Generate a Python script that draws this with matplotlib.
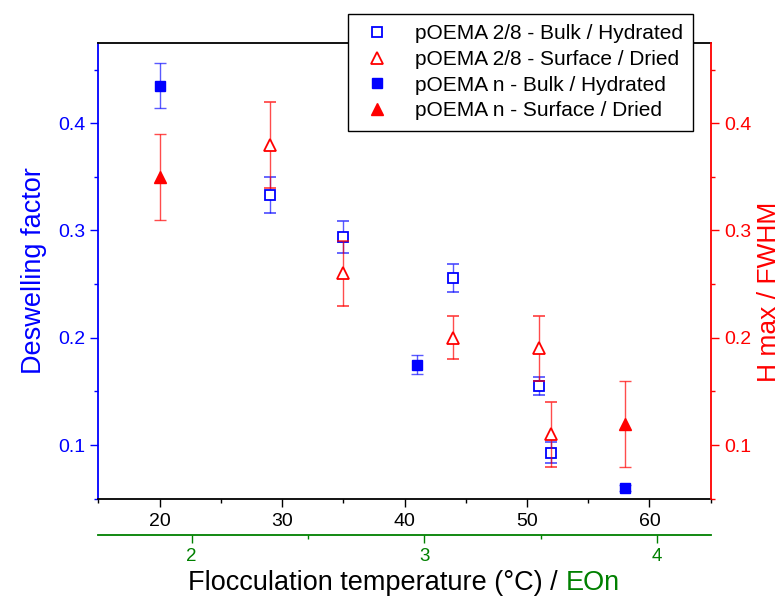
import matplotlib

matplotlib.use("Agg")

import matplotlib.pyplot as plt
from matplotlib.lines import Line2D
from matplotlib.ticker import MultipleLocator

plt.rcParams["font.family"] = ["Liberation Sans", "DejaVu Sans"]

BLUE = "#0000ff"
RED = "#ff0000"
GREEN = "#008000"

# pOEMA 2/8 - bulk / hydrated (deswelling factor, left axis)
bulk28_t = [29, 35, 44, 51, 52]
bulk28_v = [0.333, 0.294, 0.256, 0.155, 0.093]
bulk28_e = [0.017, 0.015, 0.013, 0.008, 0.010]

# pOEMA 2/8 - surface / dried (H max / FWHM, right axis)
surf28_t = [29, 35, 44, 51, 52]
surf28_v = [0.38, 0.26, 0.20, 0.19, 0.11]
surf28_e = [0.04, 0.03, 0.02, 0.03, 0.03]

# pOEMA n - bulk / hydrated
bulkn_t = [20, 41, 58]
bulkn_v = [0.435, 0.175, 0.060]
bulkn_e = [0.021, 0.009, 0.003]

# pOEMA n - surface / dried
surfn_t = [20, 58]
surfn_v = [0.35, 0.12]
surfn_e = [0.04, 0.04]

labels = [
    "pOEMA 2/8 - Bulk / Hydrated",
    "pOEMA 2/8 - Surface / Dried",
    "pOEMA n - Bulk / Hydrated",
    "pOEMA n - Surface / Dried",
]

TICK_FS = 14
LABEL_FS = 19.5

fig = plt.figure(figsize=(7.84, 6.02), dpi=100)
ax = fig.add_axes([0.1254, 0.1716, 0.7811, 0.7575])
ax2 = ax.twinx()
ax3 = ax.twiny()

err_kw = dict(capsize=4, capthick=1, elinewidth=1, ls="none")
ax.errorbar(bulk28_t, bulk28_v, yerr=bulk28_e, fmt="s", ms=7, mfc="white", mec=BLUE,
            mew=1.3, ecolor=(0, 0, 1, 0.65), **err_kw)
ax.errorbar(bulkn_t, bulkn_v, yerr=bulkn_e, fmt="s", ms=7, mfc=BLUE, mec=BLUE,
            mew=1.0, ecolor=(0, 0, 1, 0.65), **err_kw)
ax2.errorbar(surf28_t, surf28_v, yerr=surf28_e, fmt="^", ms=9, mfc="white", mec=RED,
             mew=1.3, ecolor=(1, 0, 0, 0.7), **err_kw)
ax2.errorbar(surfn_t, surfn_v, yerr=surfn_e, fmt="^", ms=9, mfc=RED, mec=RED,
             mew=1.0, ecolor=(1, 0, 0, 0.7), **err_kw)

for a in (ax, ax2):
    a.set_xlim(15, 65)
    a.set_ylim(0.05, 0.475)
    a.yaxis.set_major_locator(MultipleLocator(0.1))
    a.yaxis.set_minor_locator(MultipleLocator(0.05))

ax.xaxis.set_major_locator(MultipleLocator(10))
ax.xaxis.set_minor_locator(MultipleLocator(5))

# spines
for s in ax.spines.values():
    s.set_linewidth(1.3)
ax.spines["left"].set_color(BLUE)
ax.spines["right"].set_visible(False)
for name in ("left", "top", "bottom"):
    ax2.spines[name].set_visible(False)
ax2.spines["right"].set_color(RED)
ax2.spines["right"].set_linewidth(1.3)

ax.tick_params(axis="y", which="both", colors=BLUE, labelsize=TICK_FS, direction="out")
ax.tick_params(axis="y", which="major", length=6, width=1)
ax.tick_params(axis="y", which="minor", length=3, width=1)
ax.tick_params(axis="x", which="major", length=6, width=1, labelsize=TICK_FS, pad=4)
ax.tick_params(axis="x", which="minor", length=3, width=1)
ax2.tick_params(axis="y", which="both", colors=RED, labelsize=TICK_FS, direction="out")
ax2.tick_params(axis="y", which="major", length=6, width=1)
ax2.tick_params(axis="y", which="minor", length=3, width=1)

ax.set_ylabel("Deswelling factor", color=BLUE, fontsize=LABEL_FS, labelpad=8)
ax2.set_ylabel("H max / FWHM", color=RED, fontsize=LABEL_FS - 0.5)
ax2.yaxis.set_label_coords(1.075, 0.453)

# EOn axis below the temperature axis
ax3.set_xlim(1.599, 4.230)
ax3.set_xticks([2, 3, 4])
ax3.xaxis.set_minor_locator(MultipleLocator(0.5))
ax3.xaxis.set_ticks_position("bottom")
ax3.xaxis.set_label_position("bottom")
for name in ("left", "right", "top"):
    ax3.spines[name].set_visible(False)
ax3.spines["bottom"].set_position(("outward", 26))
ax3.spines["bottom"].set_color(GREEN)
ax3.spines["bottom"].set_linewidth(1.3)
ax3.tick_params(axis="x", which="both", colors=GREEN, labelsize=TICK_FS - 0.5, direction="out")
ax3.tick_params(axis="x", which="major", length=6, width=1)
ax3.tick_params(axis="x", which="minor", length=3, width=1)

# two-colour x label
renderer = fig.canvas.get_renderer()
y_lab = 1 - 590 / 602
t1 = fig.text(0, y_lab, "Flocculation temperature (°C) / ", fontsize=LABEL_FS, color="black",
              va="baseline")
t2 = fig.text(0, y_lab, "EOn", fontsize=LABEL_FS, color=GREEN, va="baseline")
w1 = t1.get_window_extent(renderer).width
w2 = t2.get_window_extent(renderer).width
x0 = 404 - (w1 + w2) / 2
t1.set_x(x0 / 784)
t2.set_x((x0 + w1) / 784)

handles = [
    Line2D([], [], ls="none", marker="s", ms=7, mfc="white", mec=BLUE, mew=1.3),
    Line2D([], [], ls="none", marker="^", ms=9, mfc="white", mec=RED, mew=1.3),
    Line2D([], [], ls="none", marker="s", ms=7, mfc=BLUE, mec=BLUE),
    Line2D([], [], ls="none", marker="^", ms=9, mfc=RED, mec=RED),
]
leg = fig.legend(handles, labels, loc="upper left", bbox_to_anchor=(348 / 784, 1 - 14 / 602),
                 fontsize=15, fancybox=False, edgecolor="black", framealpha=1,
                 labelspacing=0.32, borderpad=0.5, handletextpad=0.9, handlelength=1.8,
                 borderaxespad=0)
leg.get_frame().set_linewidth(1.0)

fig.savefig("out.png", dpi=100)
